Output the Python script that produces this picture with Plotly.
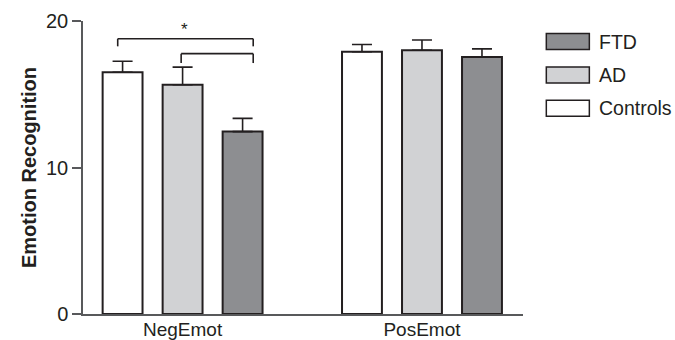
import plotly.graph_objects as go

categories = ["NegEmot", "PosEmot"]
groups = ["Controls", "AD", "FTD"]
means = {
    "Controls": [16.5, 17.9],
    "AD": [15.65, 18.0],
    "FTD": [12.45, 17.55],
}
errors = {
    "Controls": [0.75, 0.5],
    "AD": [1.2, 0.7],
    "FTD": [0.9, 0.55],
}
colors = {"Controls": "#ffffff", "AD": "#d1d2d4", "FTD": "#8d8e91"}
legend_order = ["FTD", "AD", "Controls"]

FONT = "Liberation Sans, Arial, sans-serif"
DARK = "#231f20"
AXIS = "#58595b"

fig = go.Figure()
for g in groups:
    fig.add_trace(go.Bar(
        name=g, x=categories, y=means[g],
        marker=dict(color=colors[g], line=dict(color=DARK, width=2)),
        error_y=dict(type="data", array=errors[g], arrayminus=[0, 0], symmetric=False,
                     color=DARK, thickness=1.6, width=10),
        showlegend=False,
    ))

# significance brackets
shapes = []
def bracket(x0, x1, y, drop):
    shapes.append(dict(type="line", xref="x", yref="y", x0=x0, x1=x1, y0=y, y1=y,
                       line=dict(color=DARK, width=1.6)))
    for xx in (x0, x1):
        shapes.append(dict(type="line", xref="x", yref="y", x0=xx, x1=xx, y0=y, y1=y - drop,
                           line=dict(color=DARK, width=1.6)))

bracket(-0.271, 0.295, 18.79, 0.52)
bracket(-0.006, 0.295, 17.77, 0.64)

annotations = [dict(x=0.01, y=19.45, xref="x", yref="y", text="*", showarrow=False,
                    font=dict(family=FONT, size=17, color=DARK))]

# custom legend
box_x0, box_x1 = 546, 589
box_tops = [33.3, 66.7, 100]
W, H = 675, 340
ml, mr, mt, mb = 83, 152.3, 20.7, 26
pw, ph = W - ml - mr, H - mt - mb
def px_to_paper_x(px):
    return (px - ml) / pw
def px_to_paper_y(py):
    return 1 - (py - mt) / ph
for name, top in zip(legend_order, box_tops):
    shapes.append(dict(type="rect", xref="paper", yref="paper",
                       x0=px_to_paper_x(box_x0), x1=px_to_paper_x(box_x1),
                       y0=px_to_paper_y(top + 16), y1=px_to_paper_y(top),
                       fillcolor=colors[name], line=dict(color=DARK, width=1.5)))
    annotations.append(dict(xref="paper", yref="paper", x=px_to_paper_x(597),
                            y=px_to_paper_y(top + 8), text=name, showarrow=False,
                            xanchor="left", yanchor="middle",
                            font=dict(family=FONT, size=19.5, color=DARK)))

fig.update_layout(
    width=W, height=H,
    margin=dict(l=ml, r=mr, t=mt, b=mb, pad=0, autoexpand=False),
    paper_bgcolor="white", plot_bgcolor="white",
    barmode="group", bargap=0.248, bargroupgap=0.335,
    font=dict(family=FONT, size=20, color=DARK),
    shapes=shapes, annotations=annotations,
    xaxis=dict(type="category", range=[-0.416, 1.422], showline=True, linecolor=AXIS,
               linewidth=1.5, ticks="", showgrid=False, zeroline=False, automargin=False,
               ticklabelstandoff=-3,
               tickfont=dict(family=FONT, size=19, color=DARK)),
    yaxis=dict(range=[0, 20], tickvals=[0, 10, 20], showline=True, linecolor=AXIS,
               linewidth=1.5, ticks="outside", ticklen=9, tickcolor=AXIS, tickwidth=1.5,
               showgrid=False, zeroline=False, automargin=False,
               tickfont=dict(family=FONT, size=20, color=DARK),
               title=dict(text="<b>Emotion Recognition</b>", standoff=4,
                          font=dict(family=FONT, size=20, color=DARK))),
)
fig.update_traces(cliponaxis=False)

fig.write_html("out.html", config={"displayModeBar": False},
               post_script="document.body.style.margin='0';document.body.style.overflow='hidden';")
